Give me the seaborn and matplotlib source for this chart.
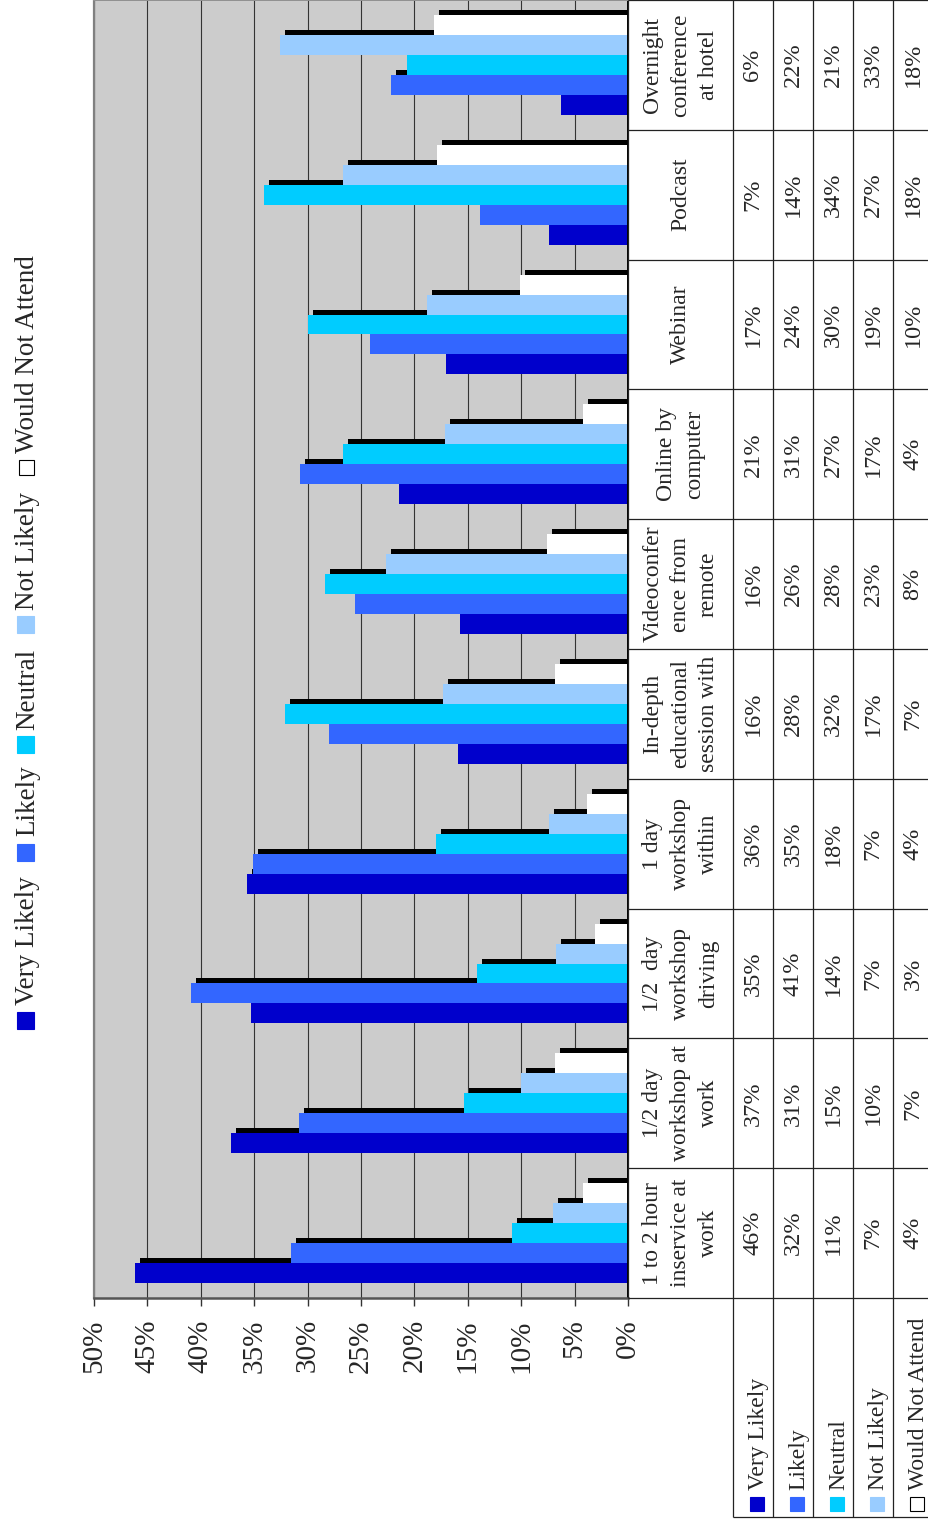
import numpy as np
import pandas as pd
import matplotlib
matplotlib.use("Agg")
import matplotlib.pyplot as plt
from matplotlib.patches import Rectangle
import seaborn as sns

# ---- data -------------------------------------------------------------
categories = [
    "1 to 2 hour\ninservice at\nwork",
    "1/2 day\nworkshop at\nwork",
    "1/2  day\nworkshop\ndriving",
    "1 day\nworkshop\nwithin",
    "In-depth\neducational\nsession with",
    "Videoconfer\nence from\nremote",
    "Online by\ncomputer",
    "Webinar",
    "Podcast",
    "Overnight\nconference\nat hotel",
]
responses = ["Very Likely", "Likely", "Neutral", "Not Likely", "Would Not Attend"]

very_likely = [46.2, 37.2, 35.3, 35.7, 15.9, 15.7, 21.4, 17.0, 7.4, 6.3]
likely = [31.6, 30.8, 40.9, 35.1, 28.0, 25.6, 30.7, 24.2, 13.9, 22.2]
neutral = [10.9, 15.4, 14.1, 18.0, 32.1, 28.4, 26.7, 30.0, 34.1, 20.7]
not_likely = [7.0, 10.0, 6.7, 7.4, 17.3, 22.7, 17.1, 18.8, 26.7, 32.6]
would_not_attend = [4.2, 6.8, 3.1, 3.8, 6.8, 7.6, 4.2, 10.1, 17.9, 18.2]

tick_values = list(range(0, 51, 5))
tick_labels = [f"{t}%" for t in tick_values]

colors = ["#0000CC", "#3366FF", "#00CCFF", "#99CCFF", "#FFFFFF"]

series = [very_likely, likely, neutral, not_likely, would_not_attend]
df = pd.DataFrame(
    [(c, r, s[i]) for r, s in zip(responses, series) for i, c in enumerate(categories)],
    columns=["category", "response", "value"],
)

# ---- figure geometry (pixels) ----------------------------------------
sns.set_theme(style="white")
plt.rcParams["font.family"] = ["Liberation Serif", "DejaVu Serif"]

W, H = 929, 1524
fig = plt.figure(figsize=(W / 100, H / 100), dpi=100)


def fx(px):
    return px / W


def fy(py):
    return 1 - py / H


PL, PR, PT, PB = 94, 628, 0, 1298
n_cat = len(categories)
band = (PB - PT) / n_cat          # pixels per category
xmax = 50
px_per_pct = (PR - PL) / xmax

ax = fig.add_axes([fx(PL), fy(PB), (PR - PL) / W, (PB - PT) / H])
ax.set_facecolor("#CCCCCC")

# drop shadows, offset 5px toward the axis and 5px upward
sns.barplot(
    data=df, x="value", y="category", hue="response",
    order=categories, hue_order=responses,
    palette=dict(zip(responses, ["#000000"] * 5)),
    orient="h", width=0.77, errorbar=None, linewidth=0,
    saturation=1, legend=False, ax=ax,
)
shadows = list(ax.patches)
dx = 5 / px_per_pct
dy = 5 / band
for p in shadows:
    p.set_x(p.get_x() - dx)
    p.set_y(p.get_y() + dy)

# the bars themselves
sns.barplot(
    data=df, x="value", y="category", hue="response",
    order=categories, hue_order=responses,
    palette=dict(zip(responses, colors)),
    orient="h", width=0.77, errorbar=None, linewidth=0,
    saturation=1, legend=False, ax=ax,
)

ax.set_xlim(xmax, 0)
ax.set_ylim(-0.5, n_cat - 0.5)
ax.set_yticks([])
ax.set_xlabel("")
ax.set_ylabel("")
ax.set_xticks(tick_values)
ax.set_xticklabels(tick_labels, rotation=90, fontsize=21)
ax.tick_params(axis="x", direction="out", length=5.8, width=1, color="#333333",
               pad=9.5, bottom=True)
ax.set_axisbelow(True)
ax.grid(axis="x", color="#333333", linewidth=0.8)
ax.grid(axis="y", visible=False)

for side, col, lw in [("left", "#808080", 1.6), ("top", "#909090", 1.4),
                      ("bottom", "#555555", 1.8), ("right", "#000000", 1.4)]:
    ax.spines[side].set_visible(True)
    ax.spines[side].set_color(col)
    ax.spines[side].set_linewidth(lw)

# ---- data table ---------------------------------------------------------
TB = 1517                       # bottom edge of the row-label cells
TR = 933                        # right edge of the last column
ybot = -0.5 - (TB - PB) / band
tab = fig.add_axes([fx(PR), fy(TB), (TR - PR) / W, TB / H])
tab.set_xlim(PR, TR)
tab.set_ylim(ybot, n_cat - 0.5)
tab.axis("off")
tab.patch.set_alpha(0)


def ty(py):
    return -0.5 - (py - PB) / band


line_kw = dict(color="#222222", lw=0.9, clip_on=False, solid_capstyle="butt")
col_edges = [733, 773, 813, 853, 893, 933]

for k in range(n_cat + 1):
    yk = k - 0.5
    tab.plot([PR, TR], [yk, yk], **line_kw)
tab.plot([col_edges[0], TR], [ybot, ybot], **line_kw)
tab.plot([PR, PR], [-0.5, n_cat - 0.5], **line_kw)
for xe in col_edges:
    tab.plot([xe, xe], [ybot, n_cat - 0.5], **line_kw)

for i, c in enumerate(categories):
    tab.text((PR + col_edges[0]) / 2, i, c, rotation=90, ha="center", va="center",
             multialignment="center", fontsize=17, linespacing=1.42)
    for j, s in enumerate(series):
        tab.text(col_edges[j] + 20, i, f"{s[i]:.0f}%", rotation=90,
                 ha="center", va="center", fontsize=17.5)

# row labels with colour keys
for j, (r, col) in enumerate(zip(responses, colors)):
    x0 = col_edges[j]
    key_w = 14
    tab.add_patch(Rectangle((x0 + 17, ty(1511)), key_w, key_w / band,
                            facecolor=col, edgecolor="black" if col == "#FFFFFF" else col,
                            linewidth=0.8, clip_on=False))
    tab.text(x0 + 31, ty(1490), r, rotation=90, rotation_mode="anchor",
             ha="left", va="baseline", fontsize=17)

# ---- legend -------------------------------------------------------------
legend_pos = [  # (key top px, key bottom px, text start px)
    (1012, 1029, 1005),
    (844, 861, 836),
    (736, 753, 730),
    (616, 633, 610),
    (460, 475, 453),
]
for (kt, kb, ts), r, col in zip(legend_pos, responses, colors):
    size = kb - kt
    x_left = 17 if col != "#FFFFFF" else 19
    fig.patches.append(Rectangle((fx(x_left), fy(kb)), size / W, size / H,
                                 transform=fig.transFigure, facecolor=col,
                                 edgecolor="black" if col == "#FFFFFF" else col,
                                 linewidth=0.8))
    fig.text(fx(34), fy(ts), r, rotation=90, rotation_mode="anchor",
             ha="left", va="baseline", fontsize=19.5)

fig.savefig("out.png", dpi=100, facecolor="white")
